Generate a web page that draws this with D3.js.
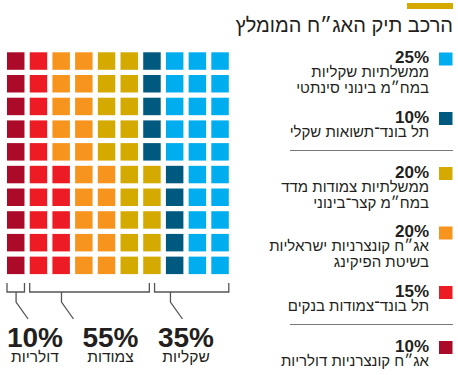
<!DOCTYPE html>
<html>
<head>
<meta charset="utf-8" />
<title>הרכב תיק האג"ח המומלץ</title>
<script src="https://cdn.jsdelivr.net/npm/d3@7"></script>
<style>
body { margin: 0; background: #fff; }
text { font-family: "Liberation Sans", Arial, sans-serif; fill: #231f20; }
</style>
</head>
<body>
<script>
// grid order, left to right (each column fills bottom to top)
var shares = [10, 15, 20, 20, 10, 25];
var colors = ["#ab0b28", "#ed1c24", "#f7941d", "#d4a900", "#005a7f", "#00aeef"];
var pctLabels = ["10%", "15%", "20%", "20%", "10%", "25%"];
var descs = [
	["אג״ח קונצרניות דולריות"],
	["תל בונד־צמודות בנקים"],
	["אג״ח קונצרניות ישראליות", "בשיטת הפיקינג"],
	["ממשלתיות צמודות מדד", "במח״מ קצר־בינוני"],
	["תל בונד־תשואות שקלי"],
	["ממשלתיות שקליות", "במח״מ בינוני סינתטי"]
];
// entries followed by a separator line in the legend (legend is top to bottom = reversed)
var sepAfter = [0, 1, 0, 0, 1, 0];

var groupValues = [10, 55, 35];
var groupPct = ["10%", "55%", "35%"];
var groupNames = ["דולריות", "צמודות", "שקליות"];
var groupStem = [4, 24, 72];

var title = "הרכב תיק האג״ח המומלץ";

var W = 458, H = 375;
var svg = d3.select("body").append("svg").attr("width", W).attr("height", H);

// title
svg.append("rect").attr("x", 407).attr("y", 3).attr("width", 46).attr("height", 6).attr("fill", "#d4a900");
svg.append("text").attr("x", 453).attr("y", 32).attr("text-anchor", "end")
	.attr("font-size", 20).text(title);

// waffle cells
var cells = [];
shares.forEach(function(s, k) {
	for (var i = 0; i < s; i++) cells.push(k);
});

var xB = d3.scaleBand().domain(d3.range(10)).range([7, 228.8]).paddingInner(0.23);
var yB = d3.scaleBand().domain(d3.range(10)).range([52.3, 274.1]).paddingInner(0.23);

svg.append("g").selectAll("rect").data(cells).join("rect")
	.attr("x", function(d, i) { return xB(Math.floor(i / 10)); })
	.attr("y", function(d, i) { return yB(9 - i % 10); })
	.attr("width", xB.bandwidth())
	.attr("height", yB.bandwidth())
	.attr("fill", function(d) { return colors[d]; });

// brackets
var xp = d3.scaleLinear().domain([0, 100]).range([7, 7 + 10 * xB.step()]);
var gap = xB.step() - xB.bandwidth();
var cum = 0;
var br = svg.append("g").attr("fill", "none").attr("stroke", "#555").attr("stroke-width", 1.3);
groupValues.forEach(function(v, i) {
	var x0 = xp(cum), x1 = xp(cum + v) - gap;
	br.append("path").attr("d", "M" + x0 + ",283V292H" + x1 + "V283");
	var sx = xp(groupStem[i]);
	br.append("path").attr("d", "M" + sx + ",292V302L" + (sx + 12) + ",319");
	cum += v;
});

var lx = d3.scalePoint().domain(d3.range(3)).range([35, 186]);
groupValues.forEach(function(v, i) {
	svg.append("text").attr("x", lx(i)).attr("y", 347).attr("text-anchor", "middle")
		.attr("font-size", 28).attr("font-weight", "bold").text(groupPct[i]);
	svg.append("text").attr("x", lx(i)).attr("y", 362).attr("text-anchor", "middle")
		.attr("font-size", 15.5).text(groupNames[i]);
});

// legend
var y = 63;
var lg = svg.append("g");
d3.range(shares.length).reverse().forEach(function(k) {
	lg.append("rect").attr("x", 439).attr("y", y - 10.5).attr("width", 13.5).attr("height", 13)
		.attr("fill", colors[k]);
	lg.append("text").attr("x", 429).attr("y", y).attr("text-anchor", "end")
		.attr("font-size", 17).attr("font-weight", "bold").text(pctLabels[k]);
	var last = y;
	descs[k].forEach(function(t, j) {
		last = y + 14 + 16 * j;
		lg.append("text").attr("x", 429).attr("y", last).attr("text-anchor", "end")
			.attr("font-size", 15).attr("fill", "#333").text(t);
	});
	if (sepAfter[k]) {
		var sy = last + 14;
		lg.append("line").attr("x1", 290).attr("x2", 453).attr("y1", sy).attr("y2", sy)
			.attr("stroke", "#777").attr("stroke-width", 1);
		y = sy + 27;
	} else {
		y = last + 29.5;
	}
});
</script>
</body>
</html>
